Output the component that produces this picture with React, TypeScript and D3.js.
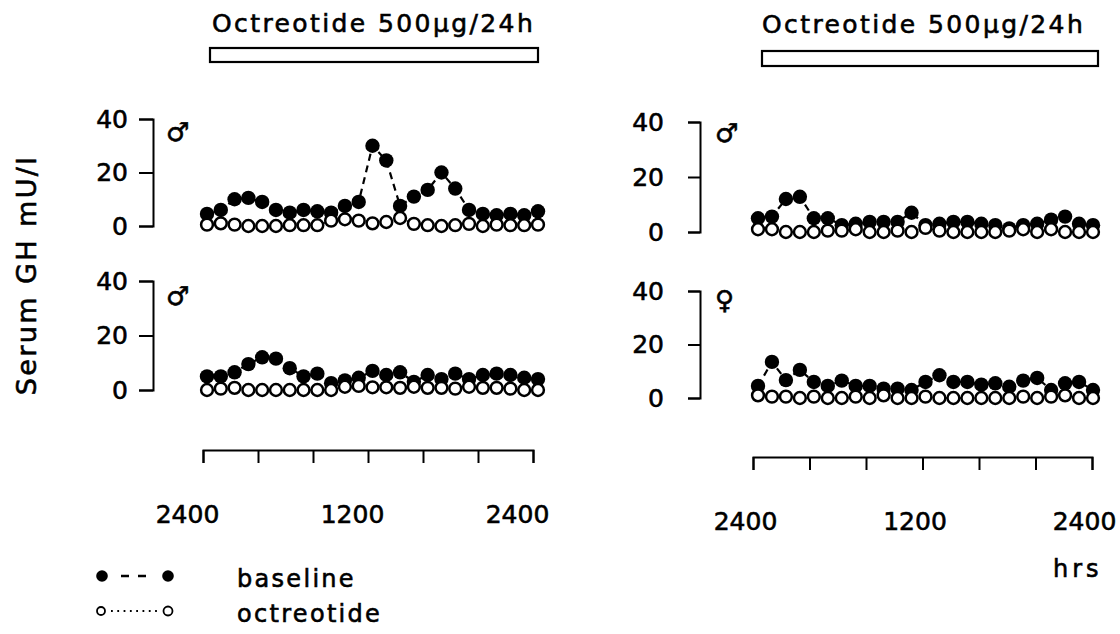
import { useEffect, useRef } from "react";
import * as d3 from "d3";

// sampling times, hours after 2400 (hourly samples)
const hours = [0, 1, 2, 3, 4, 5, 6, 7, 8, 9, 10, 11, 12, 13, 14, 15, 16, 17, 18, 19, 20, 21, 22, 23, 24];

// serum GH (mU/l)
const baselineA = [4.5, 6, 10, 10.5, 9, 6, 5, 6, 5.5, 5, 7.5, 9, 30, 24.5, 7.5, 11, 13.5, 20, 14, 6, 4.5, 4, 4.5, 4, 5.5];
const octreotideA = [0.5, 1, 0.5, 0, 0, 0, 0.3, 0.3, 0.3, 2, 2.5, 2, 1, 1.5, 3, 0.8, 0.3, 0, 0.3, 0.8, 0, 0.5, 0.3, 0.3, 0.5];

const baselineB = [5, 5, 6.5, 9.5, 12, 11.5, 8, 5, 6, 2.5, 3.5, 4.5, 7, 5.5, 6.5, 3, 5.5, 4, 6, 4, 5.5, 6, 5.5, 4.5, 4];
const octreotideB = [0, 0.5, 0.8, 0, 0, 0, 0, 0, 0, 0, 1.2, 1.5, 1, 1, 0.8, 1.2, 0.8, 0.8, 0.5, 1.2, 0.8, 0.8, 0.5, 0, 0];

const baselineC = [5, 5.6, 12, 12.8, 5, 5, 2.5, 3, 3.7, 3.7, 3.7, 7, 2.5, 3, 3.7, 3.7, 3, 2.5, 1.3, 2.5, 3, 4.5, 5.6, 3, 2.5];
const octreotideC = [1, 1, 0, 0, 0, 0.5, 0.5, 1, 0, 0, 0.5, 0, 1.5, 0.5, 0, 0, 0, 0, 0.5, 1, 0, 1, 0, 0, 0];

const baselineD = [4.5, 13.5, 6.7, 10.5, 6, 4.5, 6.5, 4.5, 4.5, 3.5, 3.5, 3, 6, 8.5, 6, 6, 5, 5.5, 4.2, 6.5, 7.5, 3, 5.5, 6, 3];
const octreotideD = [1, 0.5, 0.5, 0, 0.5, 0, 0, 0.5, 0, 1, 0, 0, 0.5, 0, 0, 0, 0, 0, 0, 0.5, 0, 0.5, 1, 0, 0];

const sexes = ["\u2642", "\u2642", "\u2642", "\u2640"];
const yTicks = [0, 20, 40];
const timeTicks = [0, 4, 8, 12, 16, 20, 24];
const timeLabels = ["2400", "", "", "1200", "", "", "2400"];
const infusionLabel = "Octreotide 500\u00b5g/24h";

const FONT = "DejaVu Sans";

// the scanned lettering is heavy, so give glyphs a thin outline
function ink(sel: any, size: number, spacing = 0) {
  sel
    .attr("font-family", FONT)
    .attr("font-size", size)
    .attr("letter-spacing", spacing)
    .attr("fill", "#000")
    .attr("stroke", "#000")
    .attr("stroke-width", 0.6);
}

export default function App() {
  const ref = useRef<SVGSVGElement>(null);

  useEffect(() => {
    const svg = d3.select(ref.current);
    svg.selectAll("*").remove();

    const cols = [
      { x: [207, 538], tx: [203, 533], axisX: 153, tick: 14, pad: 11, axisY: 450, labelDx: -16, bar: [210, 538, 48, 62], titleX: 212, titleY: 32, sexX: 166 },
      { x: [758, 1093], tx: [753, 1092], axisX: 700, tick: 12, pad: 24, axisY: 457, labelDx: -8, bar: [762, 1098, 51, 66], titleX: 762, titleY: 33, sexX: 715 },
    ];

    const panels = [
      { col: 0, y: [226, 119], base: baselineA, oct: octreotideA, sex: sexes[0], sexY: 141 },
      { col: 0, y: [390, 281], base: baselineB, oct: octreotideB, sex: sexes[1], sexY: 305 },
      { col: 1, y: [232, 122], base: baselineC, oct: octreotideC, sex: sexes[2], sexY: 142 },
      { col: 1, y: [398, 291], base: baselineD, oct: octreotideD, sex: sexes[3], sexY: 309 },
    ];

    panels.forEach((p) => {
      const c = cols[p.col];
      const x = d3.scaleLinear().domain([0, 24]).range(c.x);
      const y = d3.scaleLinear().domain([0, 40]).range(p.y);
      const g = svg.append("g");

      const ax = g
        .append("g")
        .attr("transform", `translate(${c.axisX},0)`)
        .call(d3.axisLeft(y).tickValues(yTicks).tickSize(c.tick).tickSizeOuter(c.tick).tickPadding(c.pad));
      ax.selectAll("path,line").attr("stroke", "#000").attr("stroke-width", 2);
      ink(ax.selectAll("text"), 25);

      ink(g.append("text").attr("x", c.sexX).attr("y", p.sexY).text(p.sex), 26);

      const line = d3
        .line<number>()
        .x((d, i) => x(hours[i]))
        .y((d) => y(d));

      g.append("path")
        .attr("d", line(p.base))
        .attr("fill", "none")
        .attr("stroke", "#000")
        .attr("stroke-width", 2.2)
        .attr("stroke-dasharray", "7,5");

      g.append("path")
        .attr("d", line(p.oct))
        .attr("fill", "none")
        .attr("stroke", "#000")
        .attr("stroke-width", 1.5)
        .attr("stroke-dasharray", "1.5,3");

      g.append("g")
        .selectAll("circle")
        .data(p.base)
        .join("circle")
        .attr("cx", (d, i) => x(hours[i]))
        .attr("cy", (d) => y(d))
        .attr("r", 7.2)
        .attr("fill", "#000");

      g.append("g")
        .selectAll("circle")
        .data(p.oct)
        .join("circle")
        .attr("cx", (d, i) => x(hours[i]))
        .attr("cy", (d) => y(d))
        .attr("r", 5.9)
        .attr("fill", "#fff")
        .attr("stroke", "#000")
        .attr("stroke-width", 2.5);
    });

    cols.forEach((c) => {
      const tx = d3.scaleLinear().domain([0, 24]).range(c.tx);
      const ax = svg
        .append("g")
        .attr("transform", `translate(0,${c.axisY})`)
        .call(
          d3
            .axisBottom(tx)
            .tickValues(timeTicks)
            .tickSize(13)
            .tickSizeOuter(13)
            .tickPadding(42)
            .tickFormat((d, i) => timeLabels[i])
        );
      ax.selectAll("path,line").attr("stroke", "#000").attr("stroke-width", 2);
      ink(ax.selectAll("text").attr("dx", c.labelDx), 25);

      // infusion bar
      svg
        .append("rect")
        .attr("x", c.bar[0])
        .attr("y", c.bar[2])
        .attr("width", c.bar[1] - c.bar[0])
        .attr("height", c.bar[3] - c.bar[2])
        .attr("fill", "#fff")
        .attr("stroke", "#000")
        .attr("stroke-width", 2.2);

      ink(svg.append("text").attr("x", c.titleX).attr("y", c.titleY).text(infusionLabel), 25, 2.4);
    });

    ink(
      svg
        .append("text")
        .attr("transform", "translate(36,275) rotate(-90)")
        .attr("text-anchor", "middle")
        .text("Serum GH mU/l"),
      27,
      2.4
    );

    ink(svg.append("text").attr("x", 1053).attr("y", 577).text("hrs"), 24, 4);

    // legend
    const legend = svg.append("g");
    legend.append("line").attr("x1", 121).attr("x2", 148).attr("y1", 576).attr("y2", 576)
      .attr("stroke", "#000").attr("stroke-width", 2.4).attr("stroke-dasharray", "8,9");
    legend.append("circle").attr("cx", 102).attr("cy", 576).attr("r", 5.8).attr("fill", "#000");
    legend.append("circle").attr("cx", 168).attr("cy", 576).attr("r", 5.8).attr("fill", "#000");
    legend.append("line").attr("x1", 111).attr("x2", 160).attr("y1", 611).attr("y2", 611)
      .attr("stroke", "#000").attr("stroke-width", 2).attr("stroke-dasharray", "1.8,4.5");
    legend.append("circle").attr("cx", 101).attr("cy", 611).attr("r", 4).attr("fill", "#fff").attr("stroke", "#000").attr("stroke-width", 1.8);
    legend.append("circle").attr("cx", 168).attr("cy", 611).attr("r", 4.5).attr("fill", "#fff").attr("stroke", "#000").attr("stroke-width", 1.8);
    ink(legend.append("text").attr("x", 237).attr("y", 587).text("baseline"), 24, 2.3);
    ink(legend.append("text").attr("x", 237).attr("y", 622).text("octreotide"), 24, 2.3);
  }, []);

  return (
    <svg
      ref={ref}
      width={1120}
      height={634}
      style={{ position: "absolute", left: 0, top: 0, background: "#fff" }}
    />
  );
}
